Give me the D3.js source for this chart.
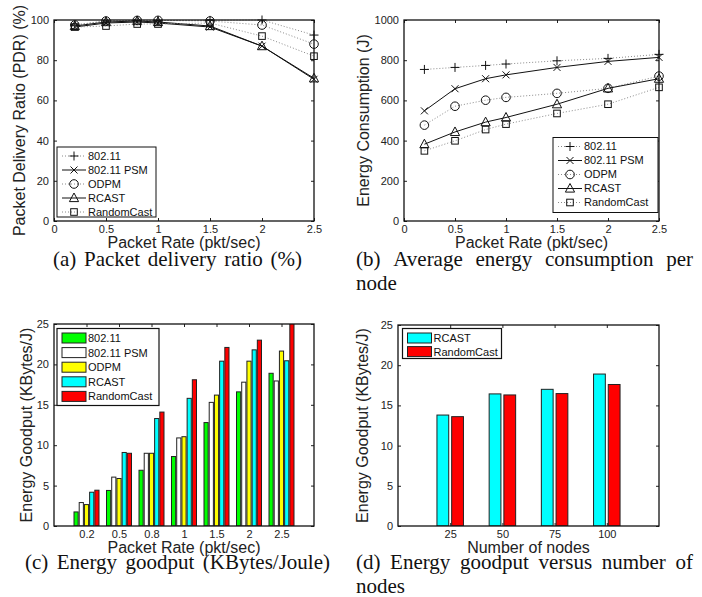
<!DOCTYPE html>
<html>
<head>
<meta charset="utf-8">
<script src="https://cdn.jsdelivr.net/npm/d3@7"></script>
<style>
  body { margin: 0; background: #fff; }
  svg { display: block; }
  .tick text { font-family: "Liberation Sans", Arial, sans-serif; font-size: 11px; fill: #222; }
  .lbl { font-family: "Liberation Sans", Arial, sans-serif; font-size: 16px; fill: #222; }
  .leg { font-family: "Liberation Sans", Arial, sans-serif; font-size: 11px; fill: #111; }
  .cap { font-family: "Liberation Serif", "Times New Roman", serif; font-size: 21px; fill: #111; }
</style>
</head>
<body>
<svg id="fig" width="702" height="597"></svg>
<script>
// ---- data ----
const rates = [0.2, 0.5, 0.8, 1, 1.5, 2, 2.5];
const schemes = ["802.11", "802.11 PSM", "ODPM", "RCAST", "RandomCast"];

// (a) packet delivery ratio (%)
const pdr80211 = [97.5, 99.5, 99.8, 99.8, 99.8, 100, 92.5];
const pdrPsm = [96.5, 98.5, 99, 98.5, 96.5, 87, 70.5];
const pdrOdpm = [97.5, 99.5, 99.8, 99.8, 99.5, 97.5, 88];
const pdrRcast = [97, 99, 99.5, 99, 97, 87, 71];
const pdrRandom = [96.5, 97, 98, 98, 98.5, 92, 82];

// (b) energy consumption (J)
const energy80211 = [754, 764, 774, 781, 797, 809, 829];
const energyPsm = [548, 658, 708, 727, 764, 794, 814];
const energyOdpm = [477, 571, 601, 615, 635, 660, 721];
const energyRcast = [382, 443, 492, 515, 581, 660, 708];
const energyRandom = [349, 399, 455, 482, 535, 581, 665];

// (c) energy goodput (KBytes/J)
const good80211 = [1.74, 4.4, 6.9, 8.6, 12.8, 16.6, 18.9];
const goodPsm = [2.9, 6.05, 9.0, 10.9, 15.3, 17.8, 17.95];
const goodOdpm = [2.65, 5.88, 9.0, 11.05, 16.2, 20.4, 21.65];
const goodRcast = [4.18, 9.1, 13.3, 15.8, 20.4, 21.8, 20.45];
const goodRandom = [4.43, 9.0, 14.1, 18.1, 22.1, 23.0, 26.5];

// (d) goodput vs number of nodes
const nodeCounts = [25, 50, 75, 100];
const nodesRcast = [13.8, 16.43, 17.0, 18.9];
const nodesRandom = [13.6, 16.3, 16.47, 17.6];

const rateTicks = [0, 0.5, 1, 1.5, 2, 2.5];
const pdrTicks = [0, 20, 40, 60, 80, 100];
const energyTicks = [0, 200, 400, 600, 800, 1000];
const goodTicks = [0, 5, 10, 15, 20, 25];

// styling per scheme
const markers = ["plus", "cross", "circle", "triangle", "square"];
const dotted = [true, false, true, false, true];
const barColors = ["#00ff00", "#ffffff", "#ffff00", "#00ffff", "#ff0000"];

const svg = d3.select("#fig");
const fmt = d => String(d);

function frameAxes(g, box, x, y, xTicks, yTicks, xFmt) {
    g.append("g").attr("transform", `translate(0,${box.y1})`)
        .call(d3.axisBottom(x).tickValues(xTicks).tickSize(-3).tickPadding(4).tickFormat(xFmt))
        .call(s => s.select(".domain").remove());
    g.append("g").attr("transform", `translate(0,${box.y0})`)
        .call(d3.axisTop(x).tickValues(xTicks).tickSize(-3).tickFormat(""))
        .call(s => s.select(".domain").remove());
    g.append("g").attr("transform", `translate(${box.x0},0)`)
        .call(d3.axisLeft(y).tickValues(yTicks).tickSize(-3).tickPadding(5).tickFormat(fmt))
        .call(s => s.select(".domain").remove());
    g.append("g").attr("transform", `translate(${box.x1},0)`)
        .call(d3.axisRight(y).tickValues(yTicks).tickSize(-3).tickFormat(""))
        .call(s => s.select(".domain").remove());
    g.selectAll(".tick line").attr("stroke", "#222");
}

function frameRect(g, box) {
    g.append("rect")
        .attr("x", box.x0).attr("y", box.y0)
        .attr("width", box.x1 - box.x0).attr("height", box.y1 - box.y0)
        .attr("fill", "none").attr("stroke", "#111").attr("stroke-width", 1.3);
}

function labels(g, box, xLabel, yLabel, yLabelX) {
    g.append("text").attr("class", "lbl")
        .attr("x", (box.x0 + box.x1) / 2).attr("y", box.y1 + 27)
        .attr("text-anchor", "middle").text(xLabel);
    g.append("text").attr("class", "lbl")
        .attr("transform", `translate(${yLabelX},${(box.y0 + box.y1) / 2}) rotate(-90)`)
        .attr("text-anchor", "middle").text(yLabel);
}

function drawMarker(g, shape, cx, cy) {
    const st = { fill: "none", stroke: "#111", "stroke-width": 1 };
    let el;
    if (shape === "circle") {
        el = g.append("circle").attr("cx", cx).attr("cy", cy).attr("r", 4.3);
    } else if (shape === "square") {
        el = g.append("rect").attr("x", cx - 3.3).attr("y", cy - 3.3).attr("width", 6.6).attr("height", 6.6);
    } else {
        const p = d3.path();
        if (shape === "plus") {
            p.moveTo(cx - 4.5, cy); p.lineTo(cx + 4.5, cy);
            p.moveTo(cx, cy - 4.5); p.lineTo(cx, cy + 4.5);
        } else if (shape === "cross") {
            p.moveTo(cx - 3.5, cy - 3.5); p.lineTo(cx + 3.5, cy + 3.5);
            p.moveTo(cx - 3.5, cy + 3.5); p.lineTo(cx + 3.5, cy - 3.5);
        } else {
            p.moveTo(cx, cy - 5); p.lineTo(cx + 4.6, cy + 3.6); p.lineTo(cx - 4.6, cy + 3.6); p.closePath();
        }
        el = g.append("path").attr("d", p.toString());
    }
    Object.entries(st).forEach(([k, v]) => el.attr(k, v));
}

function lineStyle(sel, isDotted) {
    sel.attr("fill", "none")
        .attr("stroke", isDotted ? "#8a8a8a" : "#111")
        .attr("stroke-width", 1)
        .attr("stroke-dasharray", isDotted ? "1,2" : null);
}

function linePanel(box, yDomain, yTicks, series, legend, yLabel, yLabelX) {
    const g = svg.append("g");
    const x = d3.scaleLinear().domain([0, 2.5]).range([box.x0, box.x1]);
    const y = d3.scaleLinear().domain(yDomain).range([box.y1, box.y0]);

    frameAxes(g, box, x, y, rateTicks, yTicks, fmt);

    const line = d3.line().x(d => x(d[0])).y(d => y(d[1]));
    series.forEach((vals, i) => {
        const pts = rates.map((r, j) => [r, vals[j]]);
        g.append("path").datum(pts).attr("d", line).call(lineStyle, dotted[i]);
        pts.forEach(p => drawMarker(g, markers[i], x(p[0]), y(p[1])));
    });
    frameRect(g, box);

    // legend
    const lg = g.append("g");
    lg.append("rect").attr("x", legend.x).attr("y", legend.y)
        .attr("width", legend.w).attr("height", legend.h)
        .attr("fill", "#fff").attr("stroke", "#111").attr("stroke-width", 1);
    schemes.forEach((name, i) => {
        const cy = legend.y + 9 + i * 14;
        lg.append("line").attr("x1", legend.x + 5).attr("x2", legend.x + 29)
            .attr("y1", cy).attr("y2", cy).call(lineStyle, dotted[i]);
        drawMarker(lg, markers[i], legend.x + 17, cy);
        lg.append("text").attr("class", "leg").attr("x", legend.x + 31).attr("y", cy)
            .attr("dy", "0.36em").text(name);
    });

    labels(g, box, "Packet Rate (pkt/sec)", yLabel, yLabelX);
}

let clipCount = 0;
function barPanel(box, cats, names, series, colors, groupW, legend, xLabel, yLabelX) {
    const g = svg.append("g");
    const x = d3.scaleLinear().domain([0, cats.length + 1]).range([box.x0, box.x1]);
    const y = d3.scaleLinear().domain([0, 25]).range([box.y1, box.y0]);
    const inner = d3.scaleBand().domain(names).range([-groupW / 2, groupW / 2]).paddingInner(0.2);
    const pos = cats.map((c, i) => i + 1);

    frameAxes(g, box, x, y, pos, goodTicks, (d, i) => fmt(cats[i]));

    const id = "clip" + (clipCount++);
    g.append("clipPath").attr("id", id).append("rect")
        .attr("x", box.x0).attr("y", box.y0)
        .attr("width", box.x1 - box.x0).attr("height", box.y1 - box.y0);
    const bars = g.append("g").attr("clip-path", `url(#${id})`);
    series.forEach((vals, s) => {
        bars.selectAll(null).data(vals).enter().append("rect")
            .attr("x", (v, j) => x(pos[j]) + inner(names[s]))
            .attr("y", v => y(v))
            .attr("width", inner.bandwidth())
            .attr("height", v => y(0) - y(v))
            .attr("fill", colors[s])
            .attr("stroke", "#222").attr("stroke-width", 1);
    });
    frameRect(g, box);

    const lg = g.append("g");
    lg.append("rect").attr("x", legend.x).attr("y", legend.y)
        .attr("width", legend.w).attr("height", legend.h)
        .attr("fill", "#fff").attr("stroke", "#111").attr("stroke-width", 1.2);
    names.forEach((name, i) => {
        const cy = legend.y + 9.5 + i * legend.step;
        lg.append("rect").attr("x", legend.x + 5).attr("y", cy - 5)
            .attr("width", 24).attr("height", 10)
            .attr("fill", colors[i]).attr("stroke", "#222").attr("stroke-width", 1);
        lg.append("text").attr("class", "leg").attr("x", legend.x + 31).attr("y", cy)
            .attr("dy", "0.36em").text(name);
    });

    labels(g, box, xLabel, "Energy Goodput (KBytes/J)", yLabelX);
}

// caption lines; justified when an end x is given
function captionLine(text, x0, x1, yBase) {
    const words = text.split(" ");
    const nodes = words.map(w => svg.append("text").attr("class", "cap").attr("y", yBase).text(w));
    const widths = nodes.map(n => n.node().getComputedTextLength());
    const total = d3.sum(widths);
    const gap = x1 == null || words.length < 2 ? 5 : (x1 - x0 - total) / (words.length - 1);
    let cx = x0;
    nodes.forEach((n, i) => { n.attr("x", cx); cx += widths[i] + gap; });
}

// ---- panels ----
linePanel({ x0: 54, x1: 314, y0: 20, y1: 221 }, [0, 100], pdrTicks,
    [pdr80211, pdrPsm, pdrOdpm, pdrRcast, pdrRandom],
    { x: 57, y: 147, w: 99, h: 70 },
    "Packet Delivery Ratio (PDR) (%)", 25);

linePanel({ x0: 404, x1: 659, y0: 20, y1: 221 }, [0, 1000], energyTicks,
    [energy80211, energyPsm, energyOdpm, energyRcast, energyRandom],
    { x: 553, y: 137.5, w: 105, h: 75 },
    "Energy Consumption (J)", 369);

barPanel({ x0: 54, x1: 314, y0: 324, y1: 526 }, rates, schemes,
    [good80211, goodPsm, goodOdpm, goodRcast, goodRandom], barColors, 25,
    { x: 57, y: 328.5, w: 102, h: 77, step: 14.6 },
    "Packet Rate (pkt/sec)", 32);

barPanel({ x0: 398, x1: 659, y0: 325, y1: 526 }, nodeCounts, ["RCAST", "RandomCast"],
    [nodesRcast, nodesRandom], ["#00ffff", "#ff0000"], 26.5,
    { x: 402.5, y: 328.5, w: 99, h: 30, step: 13.6 },
    "Number of nodes", 368);

captionLine("(a) Packet delivery ratio (%)", 53, 302, 266);
captionLine("(b) Average energy consumption per", 356, 693, 266);
captionLine("node", 356, null, 290);
captionLine("(c) Energy goodput (KBytes/Joule)", 25, 330, 569);
captionLine("(d) Energy goodput versus number of", 356, 693, 569);
captionLine("nodes", 356, null, 593);
</script>
</body>
</html>
